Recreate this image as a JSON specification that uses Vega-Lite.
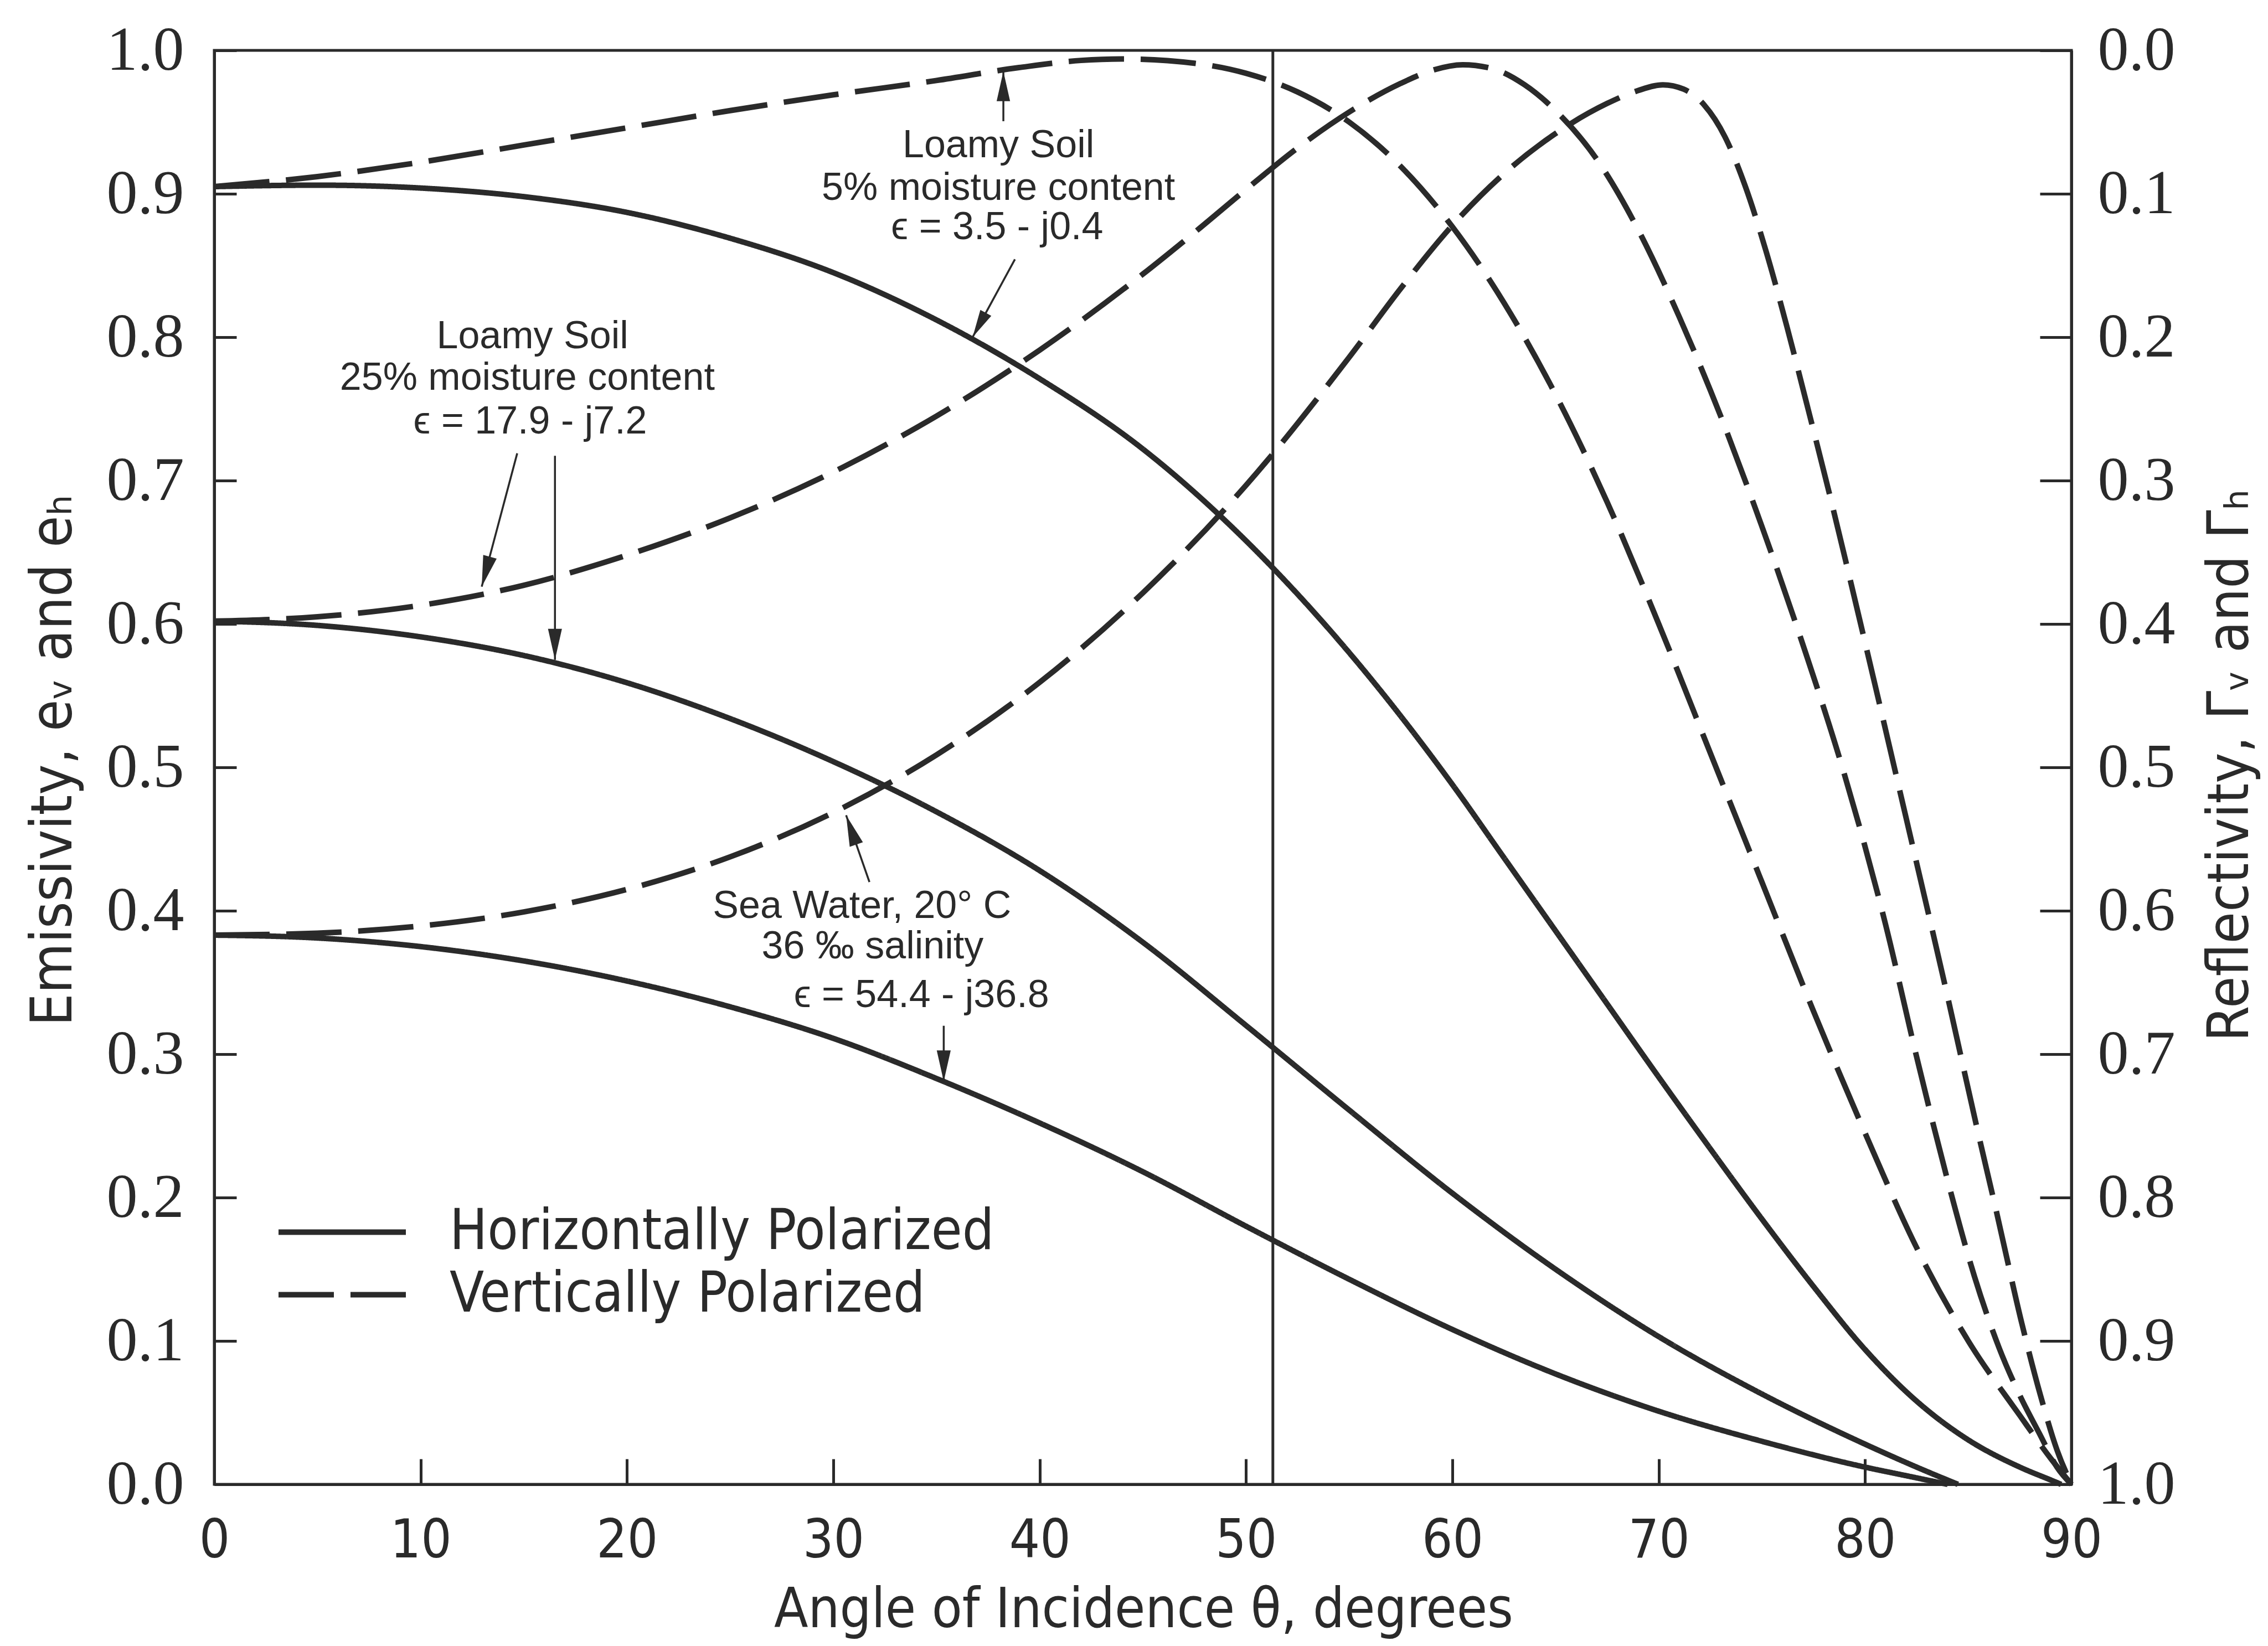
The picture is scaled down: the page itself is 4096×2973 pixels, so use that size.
{
  "$schema": "https://vega.github.io/schema/vega-lite/v6.json",
  "width": 3354,
  "height": 2590,
  "autosize": {"type": "none"},
  "padding": {"left": 387, "top": 91, "right": 355, "bottom": 292},
  "background": "white",
  "config": {
    "view": {"stroke": "#2a2a2a", "strokeWidth": 5},
    "axis": {"domainColor": "#2a2a2a", "domainWidth": 5, "tickColor": "#2a2a2a", "tickWidth": 5, "labelColor": "#2a2a2a", "titleColor": "#2a2a2a", "grid": false, "labelOverlap": false, "labelFlush": false, "labelFontWeight": "normal", "titleFontWeight": "normal"}
  },
  "datasets": {
    "curves": [
      {"angle": 0, "e": 0.905, "curve": "H5", "pol": "Horizontally Polarized"},
      {"angle": 5, "e": 0.906, "curve": "H5", "pol": "Horizontally Polarized"},
      {"angle": 10, "e": 0.904, "curve": "H5", "pol": "Horizontally Polarized"},
      {"angle": 15, "e": 0.898, "curve": "H5", "pol": "Horizontally Polarized"},
      {"angle": 20, "e": 0.887, "curve": "H5", "pol": "Horizontally Polarized"},
      {"angle": 25, "e": 0.869, "curve": "H5", "pol": "Horizontally Polarized"},
      {"angle": 30, "e": 0.845, "curve": "H5", "pol": "Horizontally Polarized"},
      {"angle": 35, "e": 0.812, "curve": "H5", "pol": "Horizontally Polarized"},
      {"angle": 40, "e": 0.771, "curve": "H5", "pol": "Horizontally Polarized"},
      {"angle": 45, "e": 0.722, "curve": "H5", "pol": "Horizontally Polarized"},
      {"angle": 50, "e": 0.658, "curve": "H5", "pol": "Horizontally Polarized"},
      {"angle": 55, "e": 0.58, "curve": "H5", "pol": "Horizontally Polarized"},
      {"angle": 60, "e": 0.488, "curve": "H5", "pol": "Horizontally Polarized"},
      {"angle": 62.5, "e": 0.437, "curve": "H5", "pol": "Horizontally Polarized"},
      {"angle": 65, "e": 0.386, "curve": "H5", "pol": "Horizontally Polarized"},
      {"angle": 67.5, "e": 0.335, "curve": "H5", "pol": "Horizontally Polarized"},
      {"angle": 70, "e": 0.284, "curve": "H5", "pol": "Horizontally Polarized"},
      {"angle": 72.5, "e": 0.234, "curve": "H5", "pol": "Horizontally Polarized"},
      {"angle": 75, "e": 0.185, "curve": "H5", "pol": "Horizontally Polarized"},
      {"angle": 77.5, "e": 0.138, "curve": "H5", "pol": "Horizontally Polarized"},
      {"angle": 80, "e": 0.094, "curve": "H5", "pol": "Horizontally Polarized"},
      {"angle": 82.5, "e": 0.058, "curve": "H5", "pol": "Horizontally Polarized"},
      {"angle": 85, "e": 0.031, "curve": "H5", "pol": "Horizontally Polarized"},
      {"angle": 87.5, "e": 0.012, "curve": "H5", "pol": "Horizontally Polarized"},
      {"angle": 89, "e": 0.003, "curve": "H5", "pol": "Horizontally Polarized"},
      {"angle": 89.5, "e": 0.0, "curve": "H5", "pol": "Horizontally Polarized"},

      {"angle": 0, "e": 0.602, "curve": "H25", "pol": "Horizontally Polarized"},
      {"angle": 5, "e": 0.599, "curve": "H25", "pol": "Horizontally Polarized"},
      {"angle": 10, "e": 0.591, "curve": "H25", "pol": "Horizontally Polarized"},
      {"angle": 15, "e": 0.578, "curve": "H25", "pol": "Horizontally Polarized"},
      {"angle": 20, "e": 0.559, "curve": "H25", "pol": "Horizontally Polarized"},
      {"angle": 25, "e": 0.534, "curve": "H25", "pol": "Horizontally Polarized"},
      {"angle": 30, "e": 0.504, "curve": "H25", "pol": "Horizontally Polarized"},
      {"angle": 35, "e": 0.469, "curve": "H25", "pol": "Horizontally Polarized"},
      {"angle": 40, "e": 0.428, "curve": "H25", "pol": "Horizontally Polarized"},
      {"angle": 45, "e": 0.378, "curve": "H25", "pol": "Horizontally Polarized"},
      {"angle": 50, "e": 0.32, "curve": "H25", "pol": "Horizontally Polarized"},
      {"angle": 55, "e": 0.261, "curve": "H25", "pol": "Horizontally Polarized"},
      {"angle": 60, "e": 0.203, "curve": "H25", "pol": "Horizontally Polarized"},
      {"angle": 65, "e": 0.15, "curve": "H25", "pol": "Horizontally Polarized"},
      {"angle": 70, "e": 0.103, "curve": "H25", "pol": "Horizontally Polarized"},
      {"angle": 75, "e": 0.063, "curve": "H25", "pol": "Horizontally Polarized"},
      {"angle": 80, "e": 0.028, "curve": "H25", "pol": "Horizontally Polarized"},
      {"angle": 82.5, "e": 0.012, "curve": "H25", "pol": "Horizontally Polarized"},
      {"angle": 84.5, "e": 0.0, "curve": "H25", "pol": "Horizontally Polarized"},

      {"angle": 0, "e": 0.383, "curve": "HS", "pol": "Horizontally Polarized"},
      {"angle": 5, "e": 0.381, "curve": "HS", "pol": "Horizontally Polarized"},
      {"angle": 10, "e": 0.375, "curve": "HS", "pol": "Horizontally Polarized"},
      {"angle": 15, "e": 0.365, "curve": "HS", "pol": "Horizontally Polarized"},
      {"angle": 20, "e": 0.351, "curve": "HS", "pol": "Horizontally Polarized"},
      {"angle": 25, "e": 0.333, "curve": "HS", "pol": "Horizontally Polarized"},
      {"angle": 30, "e": 0.311, "curve": "HS", "pol": "Horizontally Polarized"},
      {"angle": 35, "e": 0.283, "curve": "HS", "pol": "Horizontally Polarized"},
      {"angle": 40, "e": 0.252, "curve": "HS", "pol": "Horizontally Polarized"},
      {"angle": 45, "e": 0.218, "curve": "HS", "pol": "Horizontally Polarized"},
      {"angle": 50, "e": 0.18, "curve": "HS", "pol": "Horizontally Polarized"},
      {"angle": 55, "e": 0.143, "curve": "HS", "pol": "Horizontally Polarized"},
      {"angle": 60, "e": 0.108, "curve": "HS", "pol": "Horizontally Polarized"},
      {"angle": 65, "e": 0.077, "curve": "HS", "pol": "Horizontally Polarized"},
      {"angle": 70, "e": 0.051, "curve": "HS", "pol": "Horizontally Polarized"},
      {"angle": 75, "e": 0.03, "curve": "HS", "pol": "Horizontally Polarized"},
      {"angle": 80, "e": 0.012, "curve": "HS", "pol": "Horizontally Polarized"},
      {"angle": 82, "e": 0.006, "curve": "HS", "pol": "Horizontally Polarized"},
      {"angle": 84, "e": 0.0, "curve": "HS", "pol": "Horizontally Polarized"},

      {"angle": 0, "e": 0.905, "curve": "V5", "pol": "Vertically Polarized"},
      {"angle": 5, "e": 0.912, "curve": "V5", "pol": "Vertically Polarized"},
      {"angle": 10, "e": 0.922, "curve": "V5", "pol": "Vertically Polarized"},
      {"angle": 15, "e": 0.934, "curve": "V5", "pol": "Vertically Polarized"},
      {"angle": 20, "e": 0.946, "curve": "V5", "pol": "Vertically Polarized"},
      {"angle": 25, "e": 0.958, "curve": "V5", "pol": "Vertically Polarized"},
      {"angle": 30, "e": 0.969, "curve": "V5", "pol": "Vertically Polarized"},
      {"angle": 35, "e": 0.979, "curve": "V5", "pol": "Vertically Polarized"},
      {"angle": 39, "e": 0.988, "curve": "V5", "pol": "Vertically Polarized"},
      {"angle": 42, "e": 0.993, "curve": "V5", "pol": "Vertically Polarized"},
      {"angle": 44, "e": 0.994, "curve": "V5", "pol": "Vertically Polarized"},
      {"angle": 47.5, "e": 0.991, "curve": "V5", "pol": "Vertically Polarized"},
      {"angle": 50, "e": 0.984, "curve": "V5", "pol": "Vertically Polarized"},
      {"angle": 52.5, "e": 0.971, "curve": "V5", "pol": "Vertically Polarized"},
      {"angle": 55, "e": 0.95, "curve": "V5", "pol": "Vertically Polarized"},
      {"angle": 57.5, "e": 0.919, "curve": "V5", "pol": "Vertically Polarized"},
      {"angle": 60, "e": 0.877, "curve": "V5", "pol": "Vertically Polarized"},
      {"angle": 62.5, "e": 0.824, "curve": "V5", "pol": "Vertically Polarized"},
      {"angle": 65, "e": 0.76, "curve": "V5", "pol": "Vertically Polarized"},
      {"angle": 67.5, "e": 0.685, "curve": "V5", "pol": "Vertically Polarized"},
      {"angle": 70, "e": 0.6, "curve": "V5", "pol": "Vertically Polarized"},
      {"angle": 72.5, "e": 0.51, "curve": "V5", "pol": "Vertically Polarized"},
      {"angle": 75, "e": 0.42, "curve": "V5", "pol": "Vertically Polarized"},
      {"angle": 77.5, "e": 0.33, "curve": "V5", "pol": "Vertically Polarized"},
      {"angle": 80, "e": 0.245, "curve": "V5", "pol": "Vertically Polarized"},
      {"angle": 82.5, "e": 0.165, "curve": "V5", "pol": "Vertically Polarized"},
      {"angle": 85, "e": 0.1, "curve": "V5", "pol": "Vertically Polarized"},
      {"angle": 87.5, "e": 0.048, "curve": "V5", "pol": "Vertically Polarized"},
      {"angle": 89, "e": 0.018, "curve": "V5", "pol": "Vertically Polarized"},
      {"angle": 90, "e": 0.0, "curve": "V5", "pol": "Vertically Polarized"},

      {"angle": 0, "e": 0.602, "curve": "V25", "pol": "Vertically Polarized"},
      {"angle": 5, "e": 0.605, "curve": "V25", "pol": "Vertically Polarized"},
      {"angle": 10, "e": 0.613, "curve": "V25", "pol": "Vertically Polarized"},
      {"angle": 15, "e": 0.627, "curve": "V25", "pol": "Vertically Polarized"},
      {"angle": 20, "e": 0.648, "curve": "V25", "pol": "Vertically Polarized"},
      {"angle": 25, "e": 0.674, "curve": "V25", "pol": "Vertically Polarized"},
      {"angle": 30, "e": 0.706, "curve": "V25", "pol": "Vertically Polarized"},
      {"angle": 35, "e": 0.745, "curve": "V25", "pol": "Vertically Polarized"},
      {"angle": 40, "e": 0.791, "curve": "V25", "pol": "Vertically Polarized"},
      {"angle": 45, "e": 0.844, "curve": "V25", "pol": "Vertically Polarized"},
      {"angle": 47.5, "e": 0.873, "curve": "V25", "pol": "Vertically Polarized"},
      {"angle": 50, "e": 0.903, "curve": "V25", "pol": "Vertically Polarized"},
      {"angle": 52.5, "e": 0.932, "curve": "V25", "pol": "Vertically Polarized"},
      {"angle": 55, "e": 0.957, "curve": "V25", "pol": "Vertically Polarized"},
      {"angle": 57.5, "e": 0.977, "curve": "V25", "pol": "Vertically Polarized"},
      {"angle": 59, "e": 0.986, "curve": "V25", "pol": "Vertically Polarized"},
      {"angle": 60.5, "e": 0.99, "curve": "V25", "pol": "Vertically Polarized"},
      {"angle": 62, "e": 0.987, "curve": "V25", "pol": "Vertically Polarized"},
      {"angle": 63.5, "e": 0.976, "curve": "V25", "pol": "Vertically Polarized"},
      {"angle": 65, "e": 0.958, "curve": "V25", "pol": "Vertically Polarized"},
      {"angle": 67, "e": 0.924, "curve": "V25", "pol": "Vertically Polarized"},
      {"angle": 69, "e": 0.875, "curve": "V25", "pol": "Vertically Polarized"},
      {"angle": 71, "e": 0.814, "curve": "V25", "pol": "Vertically Polarized"},
      {"angle": 73, "e": 0.745, "curve": "V25", "pol": "Vertically Polarized"},
      {"angle": 75, "e": 0.668, "curve": "V25", "pol": "Vertically Polarized"},
      {"angle": 77, "e": 0.585, "curve": "V25", "pol": "Vertically Polarized"},
      {"angle": 79, "e": 0.495, "curve": "V25", "pol": "Vertically Polarized"},
      {"angle": 81, "e": 0.39, "curve": "V25", "pol": "Vertically Polarized"},
      {"angle": 82.5, "e": 0.298, "curve": "V25", "pol": "Vertically Polarized"},
      {"angle": 84, "e": 0.212, "curve": "V25", "pol": "Vertically Polarized"},
      {"angle": 85.3, "e": 0.145, "curve": "V25", "pol": "Vertically Polarized"},
      {"angle": 86.5, "e": 0.095, "curve": "V25", "pol": "Vertically Polarized"},
      {"angle": 87.5, "e": 0.062, "curve": "V25", "pol": "Vertically Polarized"},
      {"angle": 88.5, "e": 0.034, "curve": "V25", "pol": "Vertically Polarized"},
      {"angle": 89.3, "e": 0.012, "curve": "V25", "pol": "Vertically Polarized"},
      {"angle": 90, "e": 0.0, "curve": "V25", "pol": "Vertically Polarized"},

      {"angle": 0, "e": 0.383, "curve": "VS", "pol": "Vertically Polarized"},
      {"angle": 5, "e": 0.3844, "curve": "VS", "pol": "Vertically Polarized"},
      {"angle": 10, "e": 0.3894, "curve": "VS", "pol": "Vertically Polarized"},
      {"angle": 15, "e": 0.3992, "curve": "VS", "pol": "Vertically Polarized"},
      {"angle": 20, "e": 0.4149, "curve": "VS", "pol": "Vertically Polarized"},
      {"angle": 25, "e": 0.4376, "curve": "VS", "pol": "Vertically Polarized"},
      {"angle": 30, "e": 0.4685, "curve": "VS", "pol": "Vertically Polarized"},
      {"angle": 35, "e": 0.5087, "curve": "VS", "pol": "Vertically Polarized"},
      {"angle": 40, "e": 0.5593, "curve": "VS", "pol": "Vertically Polarized"},
      {"angle": 45, "e": 0.6217, "curve": "VS", "pol": "Vertically Polarized"},
      {"angle": 50, "e": 0.6967, "curve": "VS", "pol": "Vertically Polarized"},
      {"angle": 55, "e": 0.786, "curve": "VS", "pol": "Vertically Polarized"},
      {"angle": 57.5, "e": 0.834, "curve": "VS", "pol": "Vertically Polarized"},
      {"angle": 60, "e": 0.878, "curve": "VS", "pol": "Vertically Polarized"},
      {"angle": 62.5, "e": 0.914, "curve": "VS", "pol": "Vertically Polarized"},
      {"angle": 65, "e": 0.942, "curve": "VS", "pol": "Vertically Polarized"},
      {"angle": 67.5, "e": 0.963, "curve": "VS", "pol": "Vertically Polarized"},
      {"angle": 69, "e": 0.972, "curve": "VS", "pol": "Vertically Polarized"},
      {"angle": 70.2, "e": 0.976, "curve": "VS", "pol": "Vertically Polarized"},
      {"angle": 71.2, "e": 0.973, "curve": "VS", "pol": "Vertically Polarized"},
      {"angle": 72.2, "e": 0.962, "curve": "VS", "pol": "Vertically Polarized"},
      {"angle": 73.2, "e": 0.94, "curve": "VS", "pol": "Vertically Polarized"},
      {"angle": 74.2, "e": 0.905, "curve": "VS", "pol": "Vertically Polarized"},
      {"angle": 75.2, "e": 0.86, "curve": "VS", "pol": "Vertically Polarized"},
      {"angle": 76.2, "e": 0.808, "curve": "VS", "pol": "Vertically Polarized"},
      {"angle": 77.2, "e": 0.752, "curve": "VS", "pol": "Vertically Polarized"},
      {"angle": 78.2, "e": 0.695, "curve": "VS", "pol": "Vertically Polarized"},
      {"angle": 80, "e": 0.587, "curve": "VS", "pol": "Vertically Polarized"},
      {"angle": 82, "e": 0.464, "curve": "VS", "pol": "Vertically Polarized"},
      {"angle": 84, "e": 0.34, "curve": "VS", "pol": "Vertically Polarized"},
      {"angle": 85.4, "e": 0.25, "curve": "VS", "pol": "Vertically Polarized"},
      {"angle": 86.4, "e": 0.188, "curve": "VS", "pol": "Vertically Polarized"},
      {"angle": 87.6, "e": 0.112, "curve": "VS", "pol": "Vertically Polarized"},
      {"angle": 88.5, "e": 0.062, "curve": "VS", "pol": "Vertically Polarized"},
      {"angle": 89.3, "e": 0.024, "curve": "VS", "pol": "Vertically Polarized"},
      {"angle": 90, "e": 0.0, "curve": "VS", "pol": "Vertically Polarized"}
    ],
    "notes": [
      {"text": "Loamy Soil", "angle": 38.0, "e": 0.9254},
      {"text": "5% moisture content", "angle": 38.0, "e": 0.8958},
      {"text": "ϵ = 3.5 - j0.4", "angle": 37.94, "e": 0.8685},
      {"text": "Loamy Soil", "angle": 15.42, "e": 0.7921},
      {"text": "25% moisture content", "angle": 15.17, "e": 0.7634},
      {"text": "ϵ = 17.9 - j7.2", "angle": 15.31, "e": 0.7328},
      {"text": "Sea Water, 20° C", "angle": 31.39, "e": 0.3951},
      {"text": "36 ‰ salinity", "angle": 31.9, "e": 0.3668},
      {"text": "ϵ = 54.4 - j36.8", "angle": 34.27, "e": 0.3328}
    ],
    "arrows": [
      {"id": "a1", "angle": 38.24, "e": 0.9506, "angle2": 38.24, "e2": 0.9854},
      {"id": "a2", "angle": 38.8, "e": 0.8543, "angle2": 36.75, "e2": 0.8},
      {"id": "a3", "angle": 14.68, "e": 0.719, "angle2": 12.96, "e2": 0.626},
      {"id": "a4", "angle": 16.51, "e": 0.7173, "angle2": 16.51, "e2": 0.575},
      {"id": "a5", "angle": 31.75, "e": 0.42, "angle2": 30.62, "e2": 0.4666},
      {"id": "a6", "angle": 35.35, "e": 0.3198, "angle2": 35.35, "e2": 0.281}
    ],
    "vline": [
      {"angle": 51.3, "r0": 0, "r1": 1}
    ]
  },
  "layer": [
    {
      "layer": [
        {
          "data": {"name": "curves"},
          "mark": {"type": "line", "strokeWidth": 10, "color": "#2a2a2a", "interpolate": "monotone"},
          "encoding": {
            "x": {"field": "angle", "type": "quantitative", "scale": {"domain": [0, 90], "nice": false, "zero": false},
              "axis": {"values": [0, 10, 20, 30, 40, 50, 60, 70, 80, 90], "tickSize": -46, "labelPadding": 100, "labelFont": "Liberation Sans Narrow, DejaVu Sans Condensed, Liberation Sans", "labelFontSize": 97,
                "title": "Angle of Incidence θ, degrees", "titleFont": "Liberation Sans Narrow, DejaVu Sans Condensed, Liberation Sans", "titleFontSize": 100, "titleX": 1678, "titleY": 257, "titleAlign": "center", "titleBaseline": "alphabetic"}},
            "y": {"field": "e", "type": "quantitative", "scale": {"domain": [0, 1], "nice": false},
              "axis": {"values": [0, 0.1, 0.2, 0.3, 0.4, 0.5, 0.6, 0.7, 0.8, 0.9, 1.0], "format": ".1f", "tickSize": -40, "labelPadding": 95, "labelFont": "Liberation Serif", "labelFontSize": 112,
                "title": "Emissivity, eᵥ and eₕ", "titleFont": "Liberation Sans Narrow, DejaVu Sans Condensed, Liberation Sans", "titleFontSize": 104, "titleAngle": 270, "titleX": -259, "titleY": 1282, "titleAlign": "center", "titleBaseline": "alphabetic"}},
            "detail": {"field": "curve"},
            "strokeDash": {"field": "pol", "type": "nominal",
              "scale": {"domain": ["Horizontally Polarized", "Vertically Polarized"], "range": [[1, 0], [100, 30]]},
              "legend": {"orient": "none", "legendX": 111, "legendY": 2072, "title": null, "padding": 0, "rowPadding": 0,
                "symbolType": "M-1,0H3", "symbolSize": 13225, "symbolStrokeWidth": 10, "symbolStrokeColor": "#2a2a2a", "symbolFillColor": "transparent",
                "labelFont": "Liberation Sans Narrow, DejaVu Sans Condensed, Liberation Sans", "labelFontSize": 101, "labelColor": "#2a2a2a", "labelLimit": 3000, "labelOffset": 189}}
          }
        },
        {
          "data": {"name": "notes"},
          "mark": {"type": "text", "font": "Liberation Sans", "fontSize": 70, "align": "center", "baseline": "alphabetic", "color": "#2a2a2a"},
          "encoding": {
            "x": {"field": "angle", "type": "quantitative"},
            "y": {"field": "e", "type": "quantitative"},
            "text": {"field": "text"}
          }
        },
        {
          "data": {"name": "arrows"},
          "mark": {"type": "rule", "strokeWidth": 3.5, "color": "#2a2a2a"},
          "encoding": {
            "x": {"field": "angle", "type": "quantitative"},
            "y": {"field": "e", "type": "quantitative"},
            "x2": {"field": "angle2"},
            "y2": {"field": "e2"}
          }
        },
        {
          "data": {"name": "arrows"},
          "transform": [{"filter": "datum.id === 'a1'"}],
          "mark": {"type": "point", "shape": "M0,0L0.45,2L-0.45,2Z", "size": 2916, "angle": 0, "filled": true, "opacity": 1, "color": "#2a2a2a", "strokeWidth": 0},
          "encoding": {
            "x": {"field": "angle2", "type": "quantitative"},
            "y": {"field": "e2", "type": "quantitative"}
          }
        },
        {
          "data": {"name": "arrows"},
          "transform": [{"filter": "datum.id === 'a2'"}],
          "mark": {"type": "point", "shape": "M0,0L0.45,2L-0.45,2Z", "size": 2500, "angle": 208.5, "filled": true, "opacity": 1, "color": "#2a2a2a", "strokeWidth": 0},
          "encoding": {
            "x": {"field": "angle2", "type": "quantitative"},
            "y": {"field": "e2", "type": "quantitative"}
          }
        },
        {
          "data": {"name": "arrows"},
          "transform": [{"filter": "datum.id === 'a3'"}],
          "mark": {"type": "point", "shape": "M0,0L0.45,2L-0.45,2Z", "size": 3136, "angle": 195.4, "filled": true, "opacity": 1, "color": "#2a2a2a", "strokeWidth": 0},
          "encoding": {
            "x": {"field": "angle2", "type": "quantitative"},
            "y": {"field": "e2", "type": "quantitative"}
          }
        },
        {
          "data": {"name": "arrows"},
          "transform": [{"filter": "datum.id === 'a4' || datum.id === 'a6'"}],
          "mark": {"type": "point", "shape": "M0,0L0.45,2L-0.45,2Z", "size": 3136, "angle": 180, "filled": true, "opacity": 1, "color": "#2a2a2a", "strokeWidth": 0},
          "encoding": {
            "x": {"field": "angle2", "type": "quantitative"},
            "y": {"field": "e2", "type": "quantitative"}
          }
        },
        {
          "data": {"name": "arrows"},
          "transform": [{"filter": "datum.id === 'a5'"}],
          "mark": {"type": "point", "shape": "M0,0L0.45,2L-0.45,2Z", "size": 3136, "angle": 340.8, "filled": true, "opacity": 1, "color": "#2a2a2a", "strokeWidth": 0},
          "encoding": {
            "x": {"field": "angle2", "type": "quantitative"},
            "y": {"field": "e2", "type": "quantitative"}
          }
        }
      ]
    },
    {
      "data": {"name": "vline"},
      "mark": {"type": "rule", "strokeWidth": 5, "color": "#2a2a2a"},
      "encoding": {
        "x": {"field": "angle", "type": "quantitative"},
        "y": {"field": "r0", "type": "quantitative", "scale": {"domain": [0, 1], "nice": false, "reverse": true},
          "axis": {"orient": "right", "values": [0, 0.1, 0.2, 0.3, 0.4, 0.5, 0.6, 0.7, 0.8, 0.9, 1.0], "format": ".1f", "tickSize": -57, "labelPadding": 104, "labelFont": "Liberation Serif", "labelFontSize": 112,
            "title": "Reflectivity, Γᵥ and Γₕ", "titleFont": "Liberation Sans Narrow, DejaVu Sans Condensed, Liberation Sans", "titleFontSize": 104, "titleAngle": 270, "titleX": 318, "titleY": 1291, "titleAlign": "center", "titleBaseline": "alphabetic"}},
        "y2": {"field": "r1"}
      }
    }
  ],
  "resolve": {"scale": {"y": "independent"}}
}
